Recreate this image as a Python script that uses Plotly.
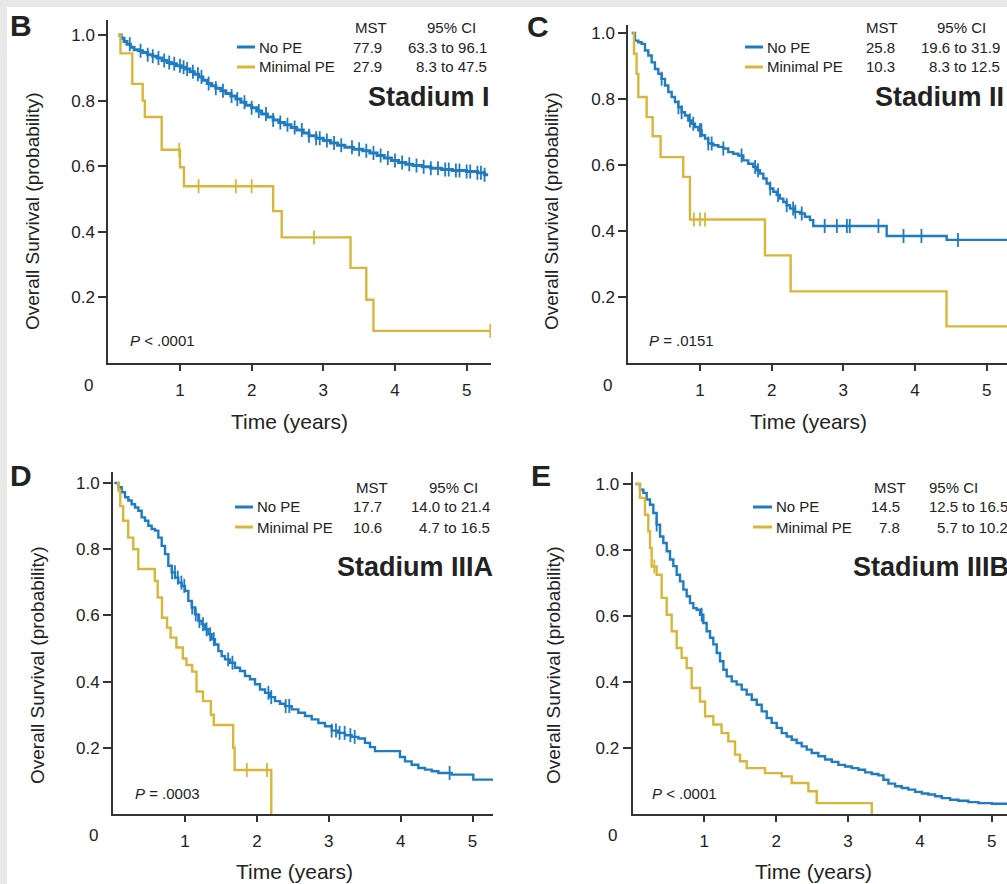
import numpy as np
import plotly.graph_objects as go

# ---------------- data ----------------
x_tickvals = [1, 2, 3, 4, 5]
x_ticktext = ["1", "2", "3", "4", "5"]
y_tickvals = [0.2, 0.4, 0.6, 0.8, 1.0]
y_ticktext = ["0.2", "0.4", "0.6", "0.8", "1.0"]

series_names = ["No PE", "Minimal PE"]

# Panel B - Stadium I
b_nope_t = [0.14, 0.18, 0.22, 0.26, 0.31, 0.36, 0.42, 0.48, 0.55, 0.62, 0.68, 0.75, 0.82, 0.88, 0.95,
            1.02, 1.08, 1.14, 1.2, 1.26, 1.32, 1.38, 1.44, 1.5, 1.57, 1.64, 1.71, 1.78, 1.85, 1.92,
            2.0, 2.07, 2.14, 2.22, 2.3, 2.38, 2.46, 2.55, 2.63, 2.72, 2.8, 2.9, 3.0, 3.1, 3.2,
            3.3, 3.42, 3.55, 3.65, 3.75, 3.85, 3.95, 4.05, 4.15, 4.25, 4.38, 4.5, 4.65, 4.8, 5.0,
            5.15, 5.25, 5.3]
b_nope_s = [1.0, 0.99, 0.98, 0.972, 0.963, 0.955, 0.952, 0.947, 0.94, 0.935, 0.93, 0.922, 0.916, 0.912, 0.906,
            0.902, 0.896, 0.888, 0.88, 0.872, 0.862, 0.852, 0.845, 0.838, 0.83, 0.822, 0.814, 0.805, 0.795, 0.786,
            0.778, 0.768, 0.759, 0.75, 0.741, 0.733, 0.726, 0.718, 0.71, 0.701, 0.693, 0.685, 0.678, 0.671, 0.664,
            0.658, 0.652, 0.647, 0.64, 0.633, 0.625, 0.617, 0.611, 0.606, 0.602, 0.598, 0.594, 0.59, 0.587, 0.584,
            0.58, 0.574, 0.574]
b_nope_cens = [0.3, 0.45, 0.55, 0.62, 0.7, 0.78, 0.85, 0.92, 1.0, 1.05, 1.1, 1.18, 1.25, 1.3, 1.4, 1.5,
               1.6, 1.72, 1.8, 1.9, 2.0, 2.1, 2.2, 2.3, 2.4, 2.5, 2.6, 2.7, 2.8, 2.9, 2.95, 3.05, 3.15,
               3.25, 3.4, 3.5, 3.6, 3.7, 3.8, 3.9, 4.0, 4.1, 4.2, 4.3, 4.4, 4.5, 4.6, 4.7, 4.75, 4.85,
               4.9, 5.0, 5.05, 5.15, 5.2, 5.25]
b_min_t = [0.14, 0.17, 0.335, 0.48, 0.51, 0.745, 1.0, 1.055, 2.30, 2.42, 3.38, 3.60, 3.70, 5.33]
b_min_s = [1.0, 0.944, 0.851, 0.80, 0.75, 0.65, 0.597, 0.539, 0.463, 0.383, 0.29, 0.193, 0.098, 0.098]
b_min_cens = [0.99, 1.26, 1.78, 2.0, 2.87, 5.33]

# Panel C - Stadium II
c_nope_t = [0.047, 0.093, 0.14, 0.186, 0.233, 0.279, 0.326, 0.372, 0.419, 0.465, 0.512, 0.558, 0.605, 0.651,
            0.698, 0.744, 0.791, 0.837, 0.884, 0.93, 0.977, 1.023, 1.07, 1.116, 1.186, 1.256, 1.326, 1.395,
            1.465, 1.535, 1.605, 1.674, 1.744, 1.791, 1.837, 1.884, 1.93, 1.977, 2.023, 2.07, 2.116, 2.163,
            2.209, 2.256, 2.326, 2.395, 2.465, 2.535, 2.581, 3.605, 4.442, 5.4]
c_nope_s = [1.0, 0.977, 0.972, 0.967, 0.947, 0.932, 0.911, 0.891, 0.876, 0.861, 0.841, 0.821, 0.806, 0.791,
            0.775, 0.76, 0.75, 0.735, 0.725, 0.715, 0.705, 0.69, 0.68, 0.665, 0.66, 0.655, 0.65, 0.639,
            0.634, 0.629, 0.614, 0.604, 0.594, 0.584, 0.574, 0.559, 0.544, 0.529, 0.519, 0.509, 0.498, 0.488,
            0.478, 0.468, 0.458, 0.453, 0.443, 0.433, 0.415, 0.385, 0.373, 0.373]
c_nope_cens = [0.465, 0.70, 0.744, 0.86, 0.907, 1.0, 1.02, 1.116, 1.163, 1.326, 1.58, 1.77, 1.81, 1.98,
               2.09, 2.21, 2.3, 2.33, 2.42, 2.74, 2.91, 3.05, 3.09, 3.49, 3.84, 4.09, 4.6]
c_min_t = [0.06, 0.08, 0.116, 0.14, 0.256, 0.34, 0.451, 0.767, 0.86, 1.907, 2.265, 4.44, 5.4]
c_min_s = [1.0, 0.937, 0.876, 0.806, 0.745, 0.687, 0.624, 0.564, 0.435, 0.326, 0.217, 0.111, 0.111]
c_min_cens = [0.916, 1.0, 1.07]

# Panel D - Stadium IIIA
d_nope_t = [0.017, 0.073, 0.119, 0.166, 0.212, 0.258, 0.305, 0.351, 0.397, 0.444, 0.49, 0.536, 0.583, 0.629,
            0.676, 0.722, 0.768, 0.815, 0.861, 0.907, 0.954, 1.0, 1.046, 1.093, 1.139, 1.186, 1.232, 1.278,
            1.325, 1.371, 1.417, 1.464, 1.51, 1.556, 1.626, 1.696, 1.765, 1.834, 1.904, 1.974, 2.043, 2.113,
            2.182, 2.252, 2.321, 2.391, 2.484, 2.576, 2.669, 2.762, 2.855, 2.947, 3.04, 3.133, 3.225, 3.318,
            3.411, 3.503, 3.573, 3.642, 3.99, 4.06, 4.152, 4.245, 4.338, 4.431, 4.524, 4.709, 5.01, 5.288]
d_nope_s = [1.0, 0.987, 0.972, 0.957, 0.947, 0.936, 0.926, 0.916, 0.896, 0.886, 0.871, 0.861, 0.856, 0.835,
            0.81, 0.785, 0.75, 0.73, 0.714, 0.699, 0.689, 0.674, 0.644, 0.624, 0.603, 0.583, 0.573, 0.558,
            0.543, 0.528, 0.512, 0.492, 0.477, 0.467, 0.457, 0.442, 0.432, 0.417, 0.407, 0.392, 0.376, 0.366,
            0.353, 0.341, 0.333, 0.326, 0.316, 0.306, 0.296, 0.286, 0.275, 0.265, 0.252, 0.245, 0.238, 0.233,
            0.228, 0.215, 0.202, 0.19, 0.172, 0.159, 0.149, 0.139, 0.134, 0.129, 0.124, 0.119, 0.104, 0.104]
d_nope_cens = [0.82, 0.86, 0.9, 0.95, 0.99, 1.1, 1.15, 1.2, 1.25, 1.3, 1.35, 1.4, 1.6, 1.66, 2.16, 2.2,
               2.4, 2.45, 3.04, 3.1, 3.15, 3.22, 3.3, 3.36, 4.68]
d_min_t = [0.05, 0.075, 0.1, 0.14, 0.21, 0.28, 0.35, 0.58, 0.62, 0.68, 0.75, 0.8, 0.88, 0.97, 1.02,
           1.1, 1.16, 1.25, 1.36, 1.4, 1.67, 1.69, 2.2]
d_min_s = [1.0, 0.977, 0.93, 0.886, 0.835, 0.80, 0.74, 0.704, 0.654, 0.593, 0.563, 0.533, 0.503, 0.47, 0.45,
           0.43, 0.37, 0.341, 0.30, 0.269, 0.20, 0.133, 0.0]
d_min_cens = [1.86, 2.14]

# Panel E - Stadium IIIB
e_nope_t = [0.035, 0.104, 0.151, 0.197, 0.244, 0.29, 0.336, 0.383, 0.429, 0.476, 0.522, 0.568, 0.615, 0.661,
            0.708, 0.754, 0.8, 0.847, 0.893, 0.94, 0.986, 1.032, 1.079, 1.125, 1.172, 1.218, 1.265, 1.311,
            1.381, 1.45, 1.52, 1.589, 1.659, 1.729, 1.798, 1.868, 1.937, 2.007, 2.077, 2.146, 2.216, 2.285,
            2.355, 2.425, 2.494, 2.587, 2.68, 2.773, 2.865, 2.958, 3.051, 3.144, 3.237, 3.329, 3.422, 3.492,
            3.562, 3.655, 3.747, 3.84, 3.933, 4.026, 4.118, 4.211, 4.304, 4.42, 4.536, 4.675, 4.814, 5.0,
            5.278, 5.4]
e_nope_s = [1.0, 0.983, 0.973, 0.953, 0.937, 0.912, 0.877, 0.841, 0.821, 0.796, 0.771, 0.751, 0.725, 0.705,
            0.68, 0.66, 0.639, 0.624, 0.619, 0.604, 0.579, 0.554, 0.534, 0.514, 0.488, 0.463, 0.437, 0.417,
            0.402, 0.392, 0.377, 0.362, 0.346, 0.331, 0.311, 0.291, 0.276, 0.261, 0.245, 0.235, 0.225, 0.215,
            0.205, 0.195, 0.185, 0.175, 0.165, 0.158, 0.149, 0.144, 0.139, 0.134, 0.126, 0.121, 0.117, 0.104,
            0.092, 0.084, 0.079, 0.074, 0.067, 0.062, 0.059, 0.054, 0.048, 0.043, 0.04, 0.036, 0.033, 0.031,
            0.029, 0.029]
e_nope_cens = [0.336, 0.963]
e_min_t = [0.035, 0.104, 0.174, 0.22, 0.244, 0.267, 0.336, 0.406, 0.476, 0.545, 0.615, 0.684, 0.754, 0.824,
           0.94, 1.01, 1.125, 1.24, 1.334, 1.427, 1.496, 1.589, 1.845, 2.077, 2.216, 2.448, 2.564, 3.33]
e_min_s = [1.0, 0.958, 0.907, 0.857, 0.806, 0.75, 0.725, 0.655, 0.604, 0.554, 0.503, 0.473, 0.442, 0.382,
           0.341, 0.296, 0.271, 0.245, 0.22, 0.18, 0.16, 0.139, 0.124, 0.114, 0.094, 0.069, 0.033, 0.0]
e_min_cens = [0.304]

panel_letters = ["B", "C", "D", "E"]
panel_titles = ["Stadium I", "Stadium II", "Stadium IIIA", "Stadium IIIB"]
mst_values = [["77.9", "27.9"], ["25.8", "10.3"], ["17.7", "10.6"], ["14.5", "7.8"]]
ci_values = [["63.3 to 96.1", "8.3 to 47.5"], ["19.6 to 31.9", "8.3 to 12.5"],
             ["14.0 to 21.4", "4.7 to 16.5"], ["12.5 to 16.5", "5.7 to 10.2"]]
p_values = ["<i>P</i> < .0001", "<i>P</i> = .0151", "<i>P</i> = .0003", "<i>P</i> < .0001"]

curves = [
    [(b_nope_t, b_nope_s, b_nope_cens), (b_min_t, b_min_s, b_min_cens)],
    [(c_nope_t, c_nope_s, c_nope_cens), (c_min_t, c_min_s, c_min_cens)],
    [(d_nope_t, d_nope_s, d_nope_cens), (d_min_t, d_min_s, d_min_cens)],
    [(e_nope_t, e_nope_s, e_nope_cens), (e_min_t, e_min_s, e_min_cens)],
]

# ---------------- styling / layout ----------------
W, H = 1007, 884
BLUE = "#1f7bc2"
GOLD = "#d8b63a"
colors = [BLUE, GOLD]
AX = "#333333"
TXT = "#222222"
FONT = "Liberation Sans, Arial, sans-serif"


def fx(px):
    return px / W


def fy(py):
    return 1 - py / H


# pixel geometry of each panel: x0 (t=0), x1 (axis end), ytop, ybot (S=0), px per year, px per unit S
geo = [
    dict(x0=108.3, x1=491.0, ytop=20, ybot=363, sx=71.67, sy=328.0),
    dict(x0=628.3, x1=1007.0, ytop=25, ybot=363, sx=71.67, sy=330.0),
    dict(x0=113.1, x1=493.0, ytop=472, ybot=814, sx=71.9, sy=331.0),
    dict(x0=632.5, x1=1007.0, ytop=472, ybot=814, sx=71.85, sy=330.0),
]

# text positions (pixels)
txtpos = [
    dict(letter=(21, 25), ytitle=(32, 211), xtitle=(289, 421), zero=(88, 385), p=(128, 341),
         hdr_y=27, rows=(47, 67), line=(237, 255), name_x=257, mst_c=371, mst_r=384, ci_c=451, ci_r=489,
         title=(366, 97)),
    dict(letter=(538, 26), ytitle=(551, 211), xtitle=(808, 421), zero=(607, 385), p=(647, 341),
         hdr_y=27, rows=(47, 67), line=(745, 763), name_x=765, mst_c=882, mst_r=897, ci_c=961, ci_r=1002,
         title=(873, 97)),
    dict(letter=(21, 475), ytitle=(37, 665), xtitle=(294, 871), zero=(93, 835), p=(133, 793),
         hdr_y=487, rows=(507, 527), line=(235, 253), name_x=255, mst_c=372, mst_r=384, ci_c=453, ci_r=492,
         title=(335, 567)),
    dict(letter=(541, 475), ytitle=(553, 665), xtitle=(813, 871), zero=(612, 835), p=(650, 793),
         hdr_y=487, rows=(507, 527), line=(753, 772), name_x=774, mst_c=890, mst_r=902, ci_c=953, ci_r=1010,
         title=(851, 567)),
]

fig = go.Figure()
annotations = []
shapes = []


def ann(x, y, text, size, xanchor="center", yanchor="middle", bold=False, angle=0, family=FONT):
    annotations.append(dict(
        x=fx(x), y=fy(y), xref="paper", yref="paper", text=("<b>%s</b>" % text) if bold else text,
        showarrow=False, xanchor=xanchor, yanchor=yanchor, textangle=angle,
        font=dict(family=family, size=size, color=TXT)))


for i in range(4):
    g = geo[i]
    k = "" if i == 0 else str(i + 1)
    xr = (g["x1"] - g["x0"]) / g["sx"]
    yr = (g["ybot"] - g["ytop"]) / g["sy"]
    fig.layout["xaxis" + k] = dict(
        domain=[fx(g["x0"]), fx(g["x1"])], range=[0, xr], anchor="y" + k,
        showline=True, linecolor=AX, linewidth=2, ticks="outside", ticklen=6, tickwidth=1.6,
        tickcolor=AX, tickvals=x_tickvals, ticktext=x_ticktext, showgrid=False, zeroline=False,
        ticklabelstandoff=5, tickfont=dict(family=FONT, size=17, color=TXT), fixedrange=True)
    fig.layout["yaxis" + k] = dict(
        domain=[fy(g["ybot"]), fy(g["ytop"])], range=[0, yr], anchor="x" + k,
        showline=True, linecolor=AX, linewidth=2, ticks="outside", ticklen=8, tickwidth=1.6,
        tickcolor=AX, tickvals=y_tickvals, ticktext=y_ticktext, showgrid=False, zeroline=False,
        tickfont=dict(family=FONT, size=17, color=TXT), fixedrange=True)

    for j, (ts, ss, cens) in enumerate(curves[i]):
        ts_a = np.asarray(ts, dtype=float)
        ss_a = np.asarray(ss, dtype=float)
        lw = 3.0 if (i == 0 and j == 0) else 2.4
        fig.add_trace(go.Scatter(
            x=ts_a, y=ss_a, mode="lines", line=dict(color=colors[j], width=lw, shape="hv"),
            xaxis="x" + k, yaxis="y" + k, showlegend=False, hoverinfo="skip"))
        c_a = np.asarray(cens, dtype=float)
        idx = np.searchsorted(ts_a, c_a, side="right") - 1
        fig.add_trace(go.Scatter(
            x=c_a, y=ss_a[idx], mode="markers",
            marker=dict(symbol="line-ns", size=10, color=colors[j],
                        line=dict(color=colors[j], width=1.8)),
            xaxis="x" + k, yaxis="y" + k, showlegend=False, hoverinfo="skip"))

    t = txtpos[i]
    ann(*t["letter"], panel_letters[i], 30, bold=True)
    ann(*t["ytitle"], "Overall Survival (probability)", 19, angle=-90)
    ann(*t["xtitle"], "Time (years)", 21)
    ann(*t["zero"], "0", 17)
    ann(t["p"][0], t["p"][1], p_values[i], 15, xanchor="left")
    ann(t["mst_c"], t["hdr_y"], "MST", 15)
    ann(t["ci_c"], t["hdr_y"], "95% CI", 15)
    for j in range(2):
        ry = t["rows"][j]
        shapes.append(dict(type="line", xref="paper", yref="paper",
                           x0=fx(t["line"][0]), x1=fx(t["line"][1]), y0=fy(ry), y1=fy(ry),
                           line=dict(color=colors[j], width=3)))
        ann(t["name_x"], ry, series_names[j], 15, xanchor="left")
        ann(t["mst_r"], ry, mst_values[i][j], 15, xanchor="right")
        ann(t["ci_r"], ry, ci_values[i][j], 15, xanchor="right")
    ann(t["title"][0], t["title"][1], panel_titles[i], 27, xanchor="left", bold=True)

# light grey frame at top and left edges
shapes.append(dict(type="rect", xref="paper", yref="paper", x0=0, x1=1, y0=fy(7), y1=1,
                   fillcolor="#e8e8e8", line=dict(width=0), layer="below"))
shapes.append(dict(type="rect", xref="paper", yref="paper", x0=0, x1=fx(7), y0=0, y1=1,
                   fillcolor="#e8e8e8", line=dict(width=0), layer="below"))

fig.update_layout(
    width=W, height=H, margin=dict(l=0, r=0, t=0, b=0),
    paper_bgcolor="white", plot_bgcolor="rgba(0,0,0,0)",
    annotations=annotations, shapes=shapes, showlegend=False,
    font=dict(family=FONT, color=TXT))

fig.write_html("out.html", config={"displayModeBar": False},
               post_script="document.body.style.margin='0px';")
